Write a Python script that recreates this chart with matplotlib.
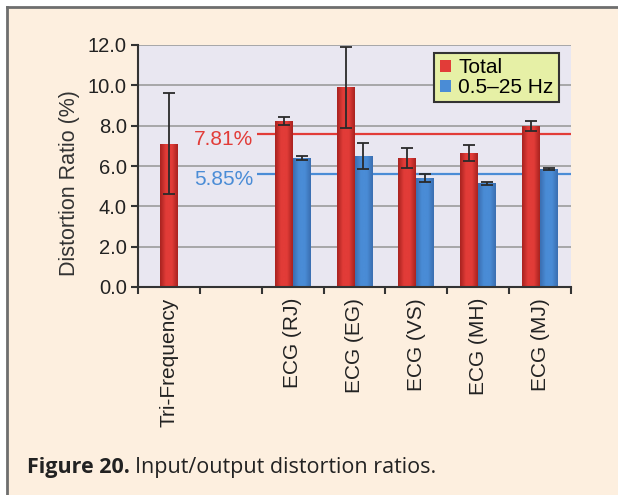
import numpy as np
import matplotlib
matplotlib.use("Agg")
import matplotlib.pyplot as plt
from matplotlib.patches import Rectangle
from matplotlib.colors import LinearSegmentedColormap

# ---- data ----
categories = ["Tri-Frequency", "", "ECG (RJ)", "ECG (EG)", "ECG (VS)", "ECG (MH)", "ECG (MJ)"]
total_vals = [7.1, np.nan, 8.25, 9.9, 6.4, 6.65, 7.97]
total_err = [2.5, np.nan, 0.2, 2.0, 0.5, 0.38, 0.24]
band_vals = [np.nan, np.nan, 6.4, 6.5, 5.4, 5.15, 5.83]
band_err = [np.nan, np.nan, 0.12, 0.65, 0.18, 0.08, 0.05]
series_names = ["Total", "0.5\u201325 Hz"]
ref_levels = [7.6, 5.6]
ref_labels = ["7.81%", "5.85%"]
yticks = [0, 2, 4, 6, 8, 10, 12]

RED = "#e23c38"
BLUE = "#4a8cd6"
plt.rcParams['font.family'] = ['Liberation Sans', 'DejaVu Sans']

fig = plt.figure(figsize=(6.18, 4.95), dpi=100)
fig.patch.set_facecolor("white")
W, H = 618, 495
panel = Rectangle((7 / W, 0), 1, 1 - 6.5 / H, transform=fig.transFigure,
                  facecolor="#fdefdf", edgecolor="none", zorder=-10)
fig.add_artist(panel)
fig.add_artist(plt.Line2D([7 / W, 1], [1 - 6.5 / H] * 2, transform=fig.transFigure,
                          color="#6e6e6e", lw=2, zorder=-5))
fig.add_artist(plt.Line2D([7 / W] * 2, [0, 1 - 6.5 / H], transform=fig.transFigure,
                          color="#6e6e6e", lw=2, zorder=-5))

ax = fig.add_axes([138 / W, 1 - 287 / H, 433 / W, 242 / H])
ax.set_facecolor("#e9e7f1")

x = np.arange(len(categories))
bw = 0.29
has_band = ~np.isnan(np.array(band_vals))
tot_x = np.where(has_band, x - bw / 2, x)
band_x = x + bw / 2

def grad_bars(bars, base_color, dark_color):
    cmap = LinearSegmentedColormap.from_list("g", [dark_color, base_color, base_color, dark_color])
    grad = np.linspace(0, 1, 64).reshape(1, -1)
    for b in bars:
        if np.isnan(b.get_height()):
            continue
        x0, w, h = b.get_x(), b.get_width(), b.get_height()
        im = ax.imshow(grad, extent=[x0, x0 + w, 0, h], cmap=cmap, aspect="auto",
                       zorder=2.5, interpolation="bicubic")
        im.set_clip_path(b)

b1 = ax.bar(tot_x, total_vals, bw, color=RED, zorder=2, label=series_names[0])
b2 = ax.bar(band_x, band_vals, bw, color=BLUE, zorder=2, label=series_names[1])
grad_bars(b1, RED, "#a8221f")
grad_bars(b2, BLUE, "#3a6eb0")

ax.errorbar(tot_x, total_vals, yerr=total_err, fmt="none", ecolor="#2a2a2a",
            elinewidth=1.3, capsize=4.5, capthick=1.3, zorder=4)
ax.errorbar(band_x, band_vals, yerr=band_err, fmt="none", ecolor="#2a2a2a",
            elinewidth=1.3, capsize=4.5, capthick=1.3, zorder=4)

# reference lines
for lvl, lab, col in zip(ref_levels, ref_labels, [RED, BLUE]):
    ax.hlines(lvl, 1.43, 6.5, color=col, lw=1.6, zorder=1.8)
    ax.annotate(lab, (1.36, lvl), xytext=(0, -4), textcoords="offset points",
                ha="right", va="center", color=col, fontsize=15)

ax.set_xlim(-0.5, 6.5)
ax.set_ylim(0, 12)
ax.set_yticks(yticks)
ax.set_yticklabels([f"{v:.1f}" for v in yticks], fontsize=14.5, color="#222222")
ax.yaxis.grid(True, color="#9c9c9c", lw=1.2, zorder=1)
ax.set_axisbelow(True)
ax.set_xticks(np.arange(-0.5, 7, 1))
ax.set_xticklabels([])
ax.set_xticks(x, minor=True)
ax.set_xticklabels(categories, minor=True, rotation=90, fontsize=15, color="#222222")
ax.tick_params(axis="x", which="minor", length=0, pad=8)
ax.tick_params(axis="x", which="major", length=5, width=1.5, color="#333333", direction="out")
ax.tick_params(axis="y", length=5, width=1.5, color="#333333", direction="out", pad=3)
for s in ["top", "right"]:
    ax.spines[s].set_visible(False)
for s in ["left", "bottom"]:
    ax.spines[s].set_color("#333333")
    ax.spines[s].set_linewidth(1.5)

ax.set_ylabel("Distortion Ratio (%)", fontsize=15.5, color="#333333")
ax.yaxis.set_label_coords(-0.135, 0.43)

leg = ax.legend(loc="upper right", bbox_to_anchor=(0.972, 0.967), fontsize=15,
                frameon=True, fancybox=False, handlelength=0.55, handleheight=0.55,
                handletextpad=0.35, borderpad=0.25, labelspacing=0.05, borderaxespad=0)
leg.get_frame().set_facecolor("#e6f0a6")
leg.get_frame().set_edgecolor("#333333")
leg.get_frame().set_linewidth(1.5)
leg.get_frame().set_alpha(1)

# caption
cap_fam = ["Open Sans", "DejaVu Sans"]
t1 = fig.text(27 / W, 1 - 467 / H, "Figure 20.", fontsize=15.5, fontweight="bold",
              family=cap_fam, color="#222222", va="center")
fig.canvas.draw()
bb = t1.get_window_extent()
fig.text((bb.x1 + 5) / W, 1 - 467 / H, "Input/output distortion ratios.", fontsize=15.5,
         family=cap_fam, color="#222222", va="center")

fig.savefig("out.png", dpi=100)
